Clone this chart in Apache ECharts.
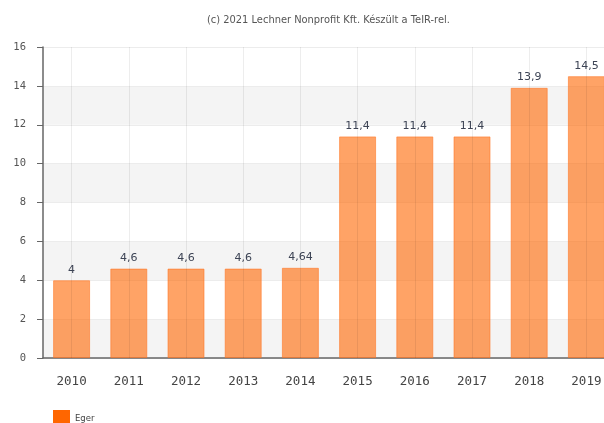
<!DOCTYPE html>
<html>
<head>
<meta charset="utf-8">
<script src="https://cdn.jsdelivr.net/npm/echarts@6/dist/echarts.min.js"></script>
<style>html,body{margin:0;padding:0;background:#fff;overflow:hidden;width:604px;height:423px}#c{width:620px;height:423px}</style>
</head>
<body>
<div id="c"></div>
<script>
var categories = ['2010','2011','2012','2013','2014','2015','2016','2017','2018','2019'];
var seriesName = 'Eger';
var values = [4, 4.6, 4.6, 4.6, 4.64, 11.4, 11.4, 11.4, 13.9, 14.5];
var titleText = '(c) 2021 Lechner Nonprofit Kft. Készült a TeIR-rel.';

var chart = echarts.init(document.getElementById('c'));
chart.setOption({
  animation: false,
  backgroundColor: '#fff',
  title: {
    text: titleText, left: 202, top: 10,
    textStyle: { fontFamily: 'DejaVu Sans', fontSize: 9.9, fontWeight: 'normal', color: '#555' }
  },
  legend: {
    data: [seriesName], left: 48, top: 405, itemWidth: 17, itemHeight: 17, itemGap: 6,
    icon: 'rect',
    textStyle: { fontFamily: 'DejaVu Sans', fontSize: 8.5, color: '#444' },
    itemStyle: { color: '#ff6600', borderWidth: 0 }
  },
  grid: { left: 43, top: 47, height: 311, width: 572, containLabel: false },
  xAxis: {
    type: 'category', data: categories,
    axisLine: { lineStyle: { color: '#666', width: 1.5 } },
    axisTick: { alignWithLabel: true, length: 5, lineStyle: { color: '#666' } },
    axisLabel: { margin: 17, fontFamily: 'DejaVu Sans Mono', fontSize: 12.5, color: '#444' },
    splitLine: { show: false }
  },
  yAxis: {
    type: 'value', min: 0, max: 16, interval: 2,
    axisLine: { show: true, lineStyle: { color: '#666', width: 1.5 } },
    axisTick: { show: true, length: 6, lineStyle: { color: '#666' } },
    axisLabel: { margin: 17, fontFamily: 'DejaVu Sans Mono', fontSize: 10.5, color: '#555' },
    splitLine: { show: true, lineStyle: { color: '#ececec', width: 1 } },
    splitArea: { show: true, areaStyle: { color: ['#f4f4f4', '#ffffff'] } }
  },
  series: [{
    name: 'grid', type: 'line', data: [], z: 1, silent: true,
    markLine: {
      silent: true, symbol: 'none', label: { show: false },
      lineStyle: { color: 'rgba(0,0,0,0.07)', type: 'solid', width: 1 },
      data: categories.map(function (c) { return { xAxis: c }; })
    }
  }, {
    name: seriesName, type: 'bar', data: values, barWidth: 37, z: 2,
    itemStyle: { color: 'rgba(255,102,0,0.6)', borderColor: 'rgba(255,120,40,0.6)', borderWidth: 1 },
    label: {
      show: true, position: 'top', distance: 5,
      fontFamily: 'DejaVu Sans', fontSize: 11, color: '#3d4455',
      formatter: function (p) { return String(p.value).replace('.', ','); }
    }
  }]
});
</script>
</body>
</html>
